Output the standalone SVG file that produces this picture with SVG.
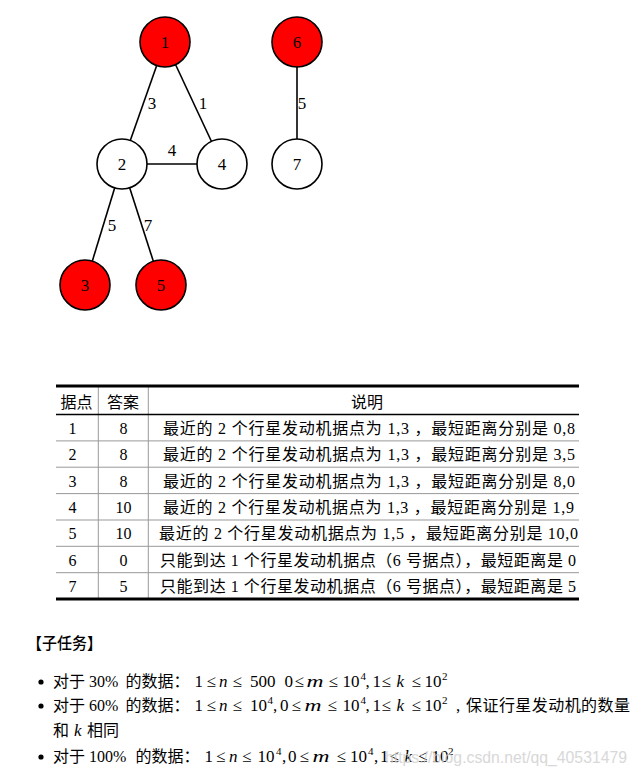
<svg xmlns="http://www.w3.org/2000/svg" width="636" height="777" viewBox="0 0 636 777">
<style>
.bg{fill:#fff}
.edge{stroke:#000;stroke-width:1.6;fill:none}
.node{stroke:#000;stroke-width:1.6}
.red{fill:#ff0000}
.white{fill:#fff}
.lbl{font-family:"Liberation Serif","Noto Sans CJK SC",serif;font-size:17px;fill:#000;text-anchor:middle}
.t{font-family:"Liberation Serif","Noto Sans CJK SC",serif;font-size:16px;fill:#000}
.c{text-anchor:middle}
.thick{stroke:#000;stroke-width:3}
.mid{stroke:#000;stroke-width:1.6}
.thin{stroke:#999;stroke-width:1}
.m{font-family:"Liberation Serif",serif;font-size:17px;fill:#000}
.i{font-style:italic}
.sup{font-size:11px}
.wm{font-family:"Liberation Sans",sans-serif;font-size:17px;fill:#cfcfcf;opacity:0.8}
.head{font-family:"Noto Sans CJK SC",sans-serif;font-size:16px;font-weight:500;fill:#000}
</style>
<rect class="bg" x="0" y="0" width="636" height="777"/>

<g id="connectors">
  <g id="e1-2"><line class="edge" x1="165" y1="42" x2="122" y2="164"/><text class="lbl" x="152" y="109">3</text></g>
  <g id="e1-4"><line class="edge" x1="165" y1="42" x2="222" y2="164"/><text class="lbl" x="203" y="109">1</text></g>
  <g id="e2-4"><line class="edge" x1="122" y1="164" x2="222" y2="164"/><text class="lbl" x="172" y="156">4</text></g>
  <g id="e6-7"><line class="edge" x1="297" y1="42" x2="297" y2="164"/><text class="lbl" x="302" y="109">5</text></g>
  <g id="e2-3"><line class="edge" x1="122" y1="164" x2="85" y2="285"/><text class="lbl" x="112" y="231">5</text></g>
  <g id="e2-5"><line class="edge" x1="122" y1="164" x2="161" y2="285"/><text class="lbl" x="148" y="231">7</text></g>
</g>

<g id="node1"><circle class="node red" cx="165" cy="42" r="25"/><text class="lbl" x="165" y="48">1</text></g>
<g id="node6"><circle class="node red" cx="297" cy="42" r="25"/><text class="lbl" x="297" y="48">6</text></g>
<g id="node2"><circle class="node white" cx="122" cy="164" r="25"/><text class="lbl" x="122" y="170">2</text></g>
<g id="node4"><circle class="node white" cx="222" cy="164" r="25"/><text class="lbl" x="222" y="170">4</text></g>
<g id="node7"><circle class="node white" cx="297" cy="164" r="25"/><text class="lbl" x="297" y="170">7</text></g>
<g id="node3"><circle class="node red" cx="85" cy="285" r="25"/><text class="lbl" x="85" y="291">3</text></g>
<g id="node5"><circle class="node red" cx="161" cy="285" r="25"/><text class="lbl" x="161" y="291">5</text></g>

<g id="table">
  <line class="thin" x1="98.3" y1="386" x2="98.3" y2="599"/>
  <line class="thin" x1="148.3" y1="386" x2="148.3" y2="599"/>
  <line class="thin" x1="56" y1="440.9" x2="579" y2="440.9"/>
  <line class="thin" x1="56" y1="467.2" x2="579" y2="467.2"/>
  <line class="thin" x1="56" y1="493.6" x2="579" y2="493.6"/>
  <line class="thin" x1="56" y1="520" x2="579" y2="520"/>
  <line class="thin" x1="56" y1="546.3" x2="579" y2="546.3"/>
  <line class="thin" x1="56" y1="572.7" x2="579" y2="572.7"/>
  <line class="mid" x1="56" y1="414.5" x2="579" y2="414.5"/>
  <line class="thick" x1="56" y1="386" x2="579" y2="386"/>
  <line class="thick" x1="56" y1="599" x2="579" y2="599"/>

  <text class="t c" x="76.5" y="407.5">据点</text>
  <text class="t c" x="123" y="407.5">答案</text>
  <text class="t c" x="367" y="407.5">说明</text>

  <text class="t c" x="72.5" y="434">1</text>
  <text class="t c" x="123.5" y="434">8</text>
  <text class="t" x="163" y="434" textLength="412" lengthAdjust="spacing">最近的 2 个行星发动机据点为 1,3 ，最短距离分别是 0,8</text>

  <text class="t c" x="72.5" y="460.3">2</text>
  <text class="t c" x="123.5" y="460.3">8</text>
  <text class="t" x="163" y="460.3" textLength="412" lengthAdjust="spacing">最近的 2 个行星发动机据点为 1,3 ，最短距离分别是 3,5</text>

  <text class="t c" x="72.5" y="486.7">3</text>
  <text class="t c" x="123.5" y="486.7">8</text>
  <text class="t" x="163" y="486.7" textLength="412" lengthAdjust="spacing">最近的 2 个行星发动机据点为 1,3 ，最短距离分别是 8,0</text>

  <text class="t c" x="72.5" y="513">4</text>
  <text class="t c" x="123.5" y="513">10</text>
  <text class="t" x="163" y="513" textLength="411" lengthAdjust="spacing">最近的 2 个行星发动机据点为 1,3 ，最短距离分别是 1,9</text>

  <text class="t c" x="72.5" y="539.4">5</text>
  <text class="t c" x="123.5" y="539.4">10</text>
  <text class="t" x="159" y="539.4" textLength="419" lengthAdjust="spacing">最近的 2 个行星发动机据点为 1,5 ，最短距离分别是 10,0</text>

  <text class="t c" x="72.5" y="565.7">6</text>
  <text class="t c" x="123.5" y="565.7">0</text>
  <text class="t" x="160" y="565.7" textLength="416" lengthAdjust="spacing">只能到达 1 个行星发动机据点（6 号据点），最短距离是 0</text>

  <text class="t c" x="72.5" y="592">7</text>
  <text class="t c" x="123.5" y="592">5</text>
  <text class="t" x="160" y="592" textLength="416" lengthAdjust="spacing">只能到达 1 个行星发动机据点（6 号据点），最短距离是 5</text>
</g>

<g id="subtasks">
  <text class="head" x="27" y="649" textLength="75" lengthAdjust="spacingAndGlyphs">【子任务】</text>

  <circle cx="41" cy="682" r="2.6" fill="#000"/>
  <circle cx="41" cy="706" r="2.6" fill="#000"/>
  <circle cx="41" cy="757" r="2.6" fill="#000"/>

  <text class="t" y="687"><tspan x="53">对于</tspan><tspan x="89">30%</tspan><tspan x="125.5">的数据：</tspan></text>
  <text class="m" y="687"><tspan x="194.5">1</tspan><tspan x="206.5">≤</tspan><tspan x="219" class="i">n</tspan><tspan x="232.5">≤</tspan><tspan x="250">500</tspan><tspan x="284.5">0</tspan><tspan x="294.5">≤</tspan><tspan x="306.5" class="i" textLength="17" lengthAdjust="spacingAndGlyphs">m</tspan><tspan x="328.5">≤</tspan><tspan x="342.5">10</tspan><tspan x="360.5" y="680" class="sup">4</tspan><tspan x="365.5" y="687">,</tspan><tspan x="372.5">1</tspan><tspan x="381.5">≤</tspan><tspan x="396.5" class="i">k</tspan><tspan x="411.5">≤</tspan><tspan x="424.5">10</tspan><tspan x="442" y="680" class="sup">2</tspan></text>

  <text class="t" y="711"><tspan x="53">对于</tspan><tspan x="89">60%</tspan><tspan x="125.5">的数据：</tspan></text>
  <text class="m" y="711"><tspan x="194.5">1</tspan><tspan x="206.5">≤</tspan><tspan x="219" class="i">n</tspan><tspan x="232.5">≤</tspan><tspan x="250">10</tspan><tspan x="267.5" y="704" class="sup">4</tspan><tspan x="273" y="711">,</tspan><tspan x="280">0</tspan><tspan x="291.5">≤</tspan><tspan x="304.5" class="i" textLength="17" lengthAdjust="spacingAndGlyphs">m</tspan><tspan x="327.5">≤</tspan><tspan x="342.5">10</tspan><tspan x="360.5" y="704" class="sup">4</tspan><tspan x="365.5" y="711">,</tspan><tspan x="372.5">1</tspan><tspan x="381.5">≤</tspan><tspan x="396.5" class="i">k</tspan><tspan x="411.5">≤</tspan><tspan x="424.5">10</tspan><tspan x="442" y="704" class="sup">2</tspan><tspan x="456" y="711">,</tspan></text>
  <text class="t" x="466" y="711" textLength="164" lengthAdjust="spacing">保证行星发动机的数量</text>

  <text class="t" y="736"><tspan x="53">和</tspan><tspan x="87">相同</tspan></text>
  <text class="m i" x="74" y="736">k</text>

  <text class="t" y="762"><tspan x="53">对于</tspan><tspan x="89">100%</tspan><tspan x="135.5">的数据：</tspan></text>
  <text class="m" y="762"><tspan x="204.5">1</tspan><tspan x="216">≤</tspan><tspan x="229" class="i">n</tspan><tspan x="242">≤</tspan><tspan x="257.5">10</tspan><tspan x="276" y="755" class="sup">4</tspan><tspan x="282" y="762">,</tspan><tspan x="288">0</tspan><tspan x="299.5">≤</tspan><tspan x="312.5" class="i" textLength="17" lengthAdjust="spacingAndGlyphs">m</tspan><tspan x="336.5">≤</tspan><tspan x="350">10</tspan><tspan x="368" y="755" class="sup">4</tspan><tspan x="374" y="762">,</tspan><tspan x="380">1</tspan><tspan x="389.5">≤</tspan><tspan x="404.5" class="i">k</tspan><tspan x="418">≤</tspan><tspan x="431.5">10</tspan><tspan x="448" y="755" class="sup">2</tspan></text>

  <text class="wm" x="385" y="763" textLength="242" lengthAdjust="spacingAndGlyphs">https://blog.csdn.net/qq_40531479</text>
</g>
</svg>
